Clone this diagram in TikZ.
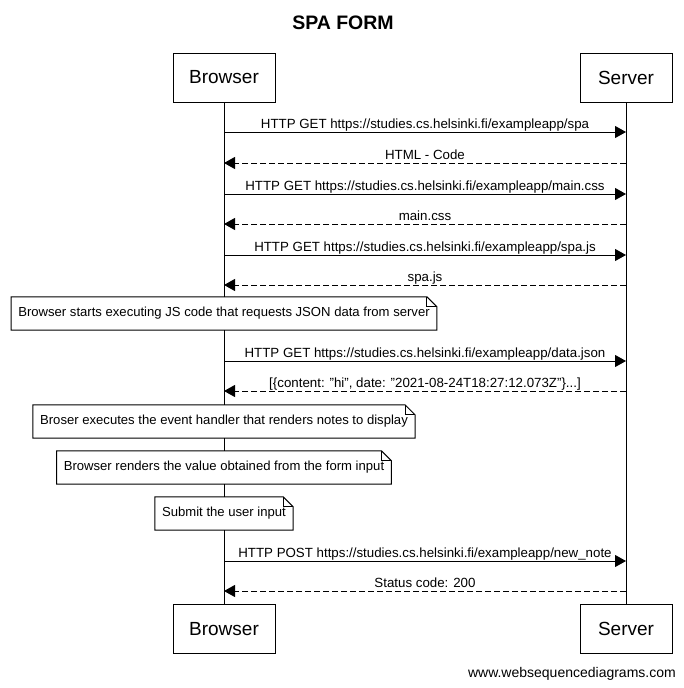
\documentclass[tikz,border=0pt]{standalone}
\usepackage{fontspec}
\setmainfont{Liberation Sans}
\usetikzlibrary{arrows.meta}
\newcommand\notedraw[1]{%
  \draw[noteline] (#1.south west) -- (#1.north west) -- ([xshift=-10pt]#1.north east) -- ([yshift=-10pt]#1.north east) -- (#1.south east) -- cycle;
  \draw[noteline] ([xshift=-10pt]#1.north east) |- ([yshift=-10pt]#1.north east);}
\begin{document}
\begin{tikzpicture}[x=1pt,y=1pt,
  part/.style={draw,line width=1pt,fill=white,minimum height=49pt,inner sep=0pt,font=\fontsize{19}{22}\selectfont},
  life/.style={line width=1pt},
  req/.style={line width=1pt,-{Triangle[length=11pt,width=12pt]}},
  resp/.style={line width=1pt,dash pattern=on 6pt off 3pt,-{Triangle[length=11pt,width=12pt]}},
  lbl/.style={midway,anchor=base,yshift=4pt,inner sep=0pt,font=\fontsize{13.3}{16}\selectfont},
  note/.style={fill=white,inner xsep=7pt,inner ysep=0pt,minimum height=33pt,font=\fontsize{13.1}{16}\selectfont},
  noteline/.style={line width=1pt,line join=miter}
]
\useasboundingbox (0,0) rectangle (684,-688);
\node[anchor=base,font=\fontsize{19.5}{22}\selectfont\bfseries] (title) at (343,-29) {SPA FORM};
\node[part,minimum width=102pt] (bt) at (224,-77.5) {Browser};
\node[part,minimum width=92pt] (st) at (626,-77.5) {Server};
\node[part,minimum width=102pt] (bb) at (224,-629) {Browser};
\node[part,minimum width=92pt] (sb) at (626,-629) {Server};
\draw[life] (bt.south) -- (bb.north);
\draw[life] (st.south) -- (sb.north);
\foreach \i/\y in {1/132,2/163,3/194,4/224,5/255,6/285,7/361,8/391,9/561,10/591}{
  \coordinate (b\i) at (224,-\y);
  \coordinate (s\i) at (626,-\y);
}
\draw[req] (b1) -- (s1) node[lbl]{HTTP GET https://studies.cs.helsinki.fi/exampleapp/spa};
\draw[resp] (s2) -- (b2) node[lbl]{HTML - Code};
\draw[req] (b3) -- (s3) node[lbl]{HTTP GET https://studies.cs.helsinki.fi/exampleapp/main.css};
\draw[resp] (s4) -- (b4) node[lbl]{main.css};
\draw[req] (b5) -- (s5) node[lbl]{HTTP GET https://studies.cs.helsinki.fi/exampleapp/spa.js};
\draw[resp] (s6) -- (b6) node[lbl]{spa.js};
\node[note] (n1) at (224,-313.5) {Browser starts executing JS code that requests JSON data from server};
\notedraw{n1}
\draw[req] (b7) -- (s7) node[lbl]{HTTP GET https://studies.cs.helsinki.fi/exampleapp/data.json};
\draw[resp] (s8) -- (b8) node[lbl]{[\{content: "hi", date: "2021-08-24T18:27:12.073Z"\}...]};
\node[note] (n2) at (224,-421.5) {Broser executes the event handler that renders notes to display};
\notedraw{n2}
\node[note] (n3) at (224,-467.5) {Browser renders the value obtained from the form input};
\notedraw{n3}
\node[note] (n4) at (224,-513.5) {Submit the user input};
\notedraw{n4}
\draw[req] (b9) -- (s9) node[lbl]{HTTP POST https://studies.cs.helsinki.fi/exampleapp/new\_note};
\draw[resp] (s10) -- (b10) node[lbl]{Status code: 200};
\node[anchor=base east,inner sep=0pt,font=\fontsize{14}{16}\selectfont] (foot) at (676,-677) {www.websequencediagrams.com};
\end{tikzpicture}
\end{document}
